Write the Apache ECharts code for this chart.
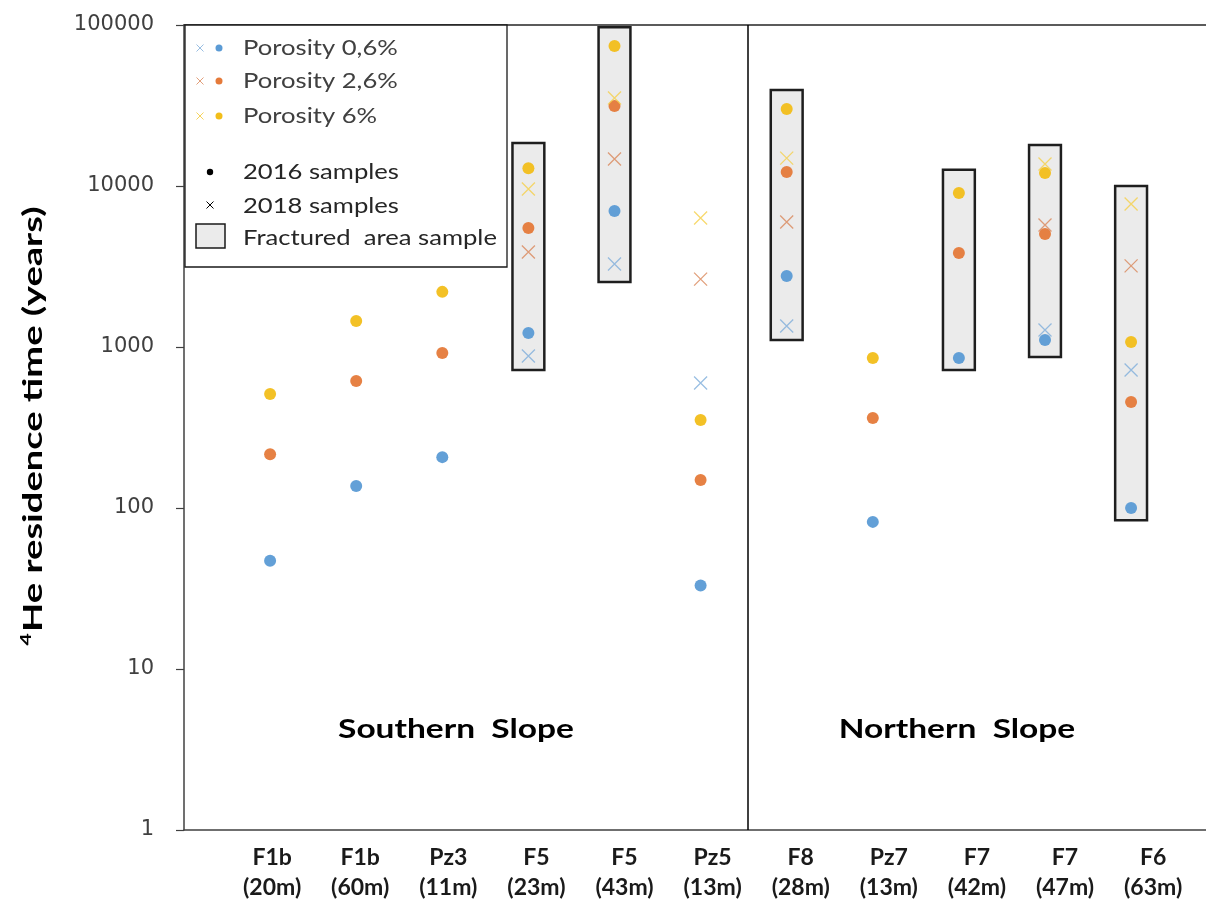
<!DOCTYPE html>
<html><head><meta charset="utf-8">
<script src="https://cdn.jsdelivr.net/npm/echarts@6/dist/echarts.min.js"></script>
<style>html,body{margin:0;padding:0;background:#fff}#c{width:1206px;height:904px}</style>
</head><body><div id="c"></div>
<script>
// ---- data ----
const sites  = ['F1b','F1b','Pz3','F5','F5','Pz5','F8','Pz7','F7','F7','F6'];
const depths = ['(20m)','(60m)','(11m)','(23m)','(43m)','(13m)','(28m)','(13m)','(42m)','(47m)','(63m)'];
const yTicks = [1,10,100,1000,10000,100000];
// 2016 samples (dots)
const p06_2016 = [47, 137, 207, 1220, 7000, 33, 2760, 82, 855, 1105, 100];
const p26_2016 = [216, 615, 918, 5480, 31400, 149, 12200, 362, 3840, 5030, 455];
const p6_2016  = [510, 1450, 2200, 12900, 74000, 352, 30100, 855, 9050, 12050, 1075];
// 2018 samples (crosses)
const p06_2018 = [null, null, null, 880, 3280, 598, 1350, null, null, 1275, 720];
const p26_2018 = [null, null, null, 3890, 14700, 2640, 5970, null, null, 5730, 3190];
const p6_2018  = [null, null, null, 9580, 35200, 6330, 14900, null, null, 13700, 7730];
// fractured area boxes: category index (1-based), low, high
const boxIdx  = [4, 5, 7, 9, 10, 11];
const boxLow  = [720, 2535, 1105, 720, 867, 84];
const boxHigh = [18500, 97000, 39500, 12600, 18000, 10000];
const dividerX = 6.55;

const C_BLUE = '#5B9BD5', C_ORANGE = '#E57A3A', C_YELLOW = '#F2BE1A';
const X_BLUE = '#7FAEDB', X_ORANGE = '#D9875A', X_YELLOW = '#F5CF4A';
const CROSS = 'path://M0,0L10,10M10,0L0,10';

function pts(arr){ return arr.map((v,i)=> v==null ? null : [i+1, v]).filter(d=>d); }

const chart = echarts.init(document.getElementById('c'), null, {renderer:'canvas'});

function dotSeries(arr, color){
  return {type:'scatter', xAxisIndex:0, data: pts(arr), symbol:'circle', symbolSize:12,
    itemStyle:{color: color, opacity: 0.95}, z:4, silent:true};
}
function crossSeries(arr, color){
  return {type:'scatter', xAxisIndex:0, data: pts(arr), symbol: CROSS, symbolSize:13,
    itemStyle:{color:'none', borderColor: color, borderWidth:1.3, opacity:0.8}, z:5, silent:true};
}
function legendCross(cx, cy, color, op){
  const h = 3.5;
  return [
    {type:'line', shape:{x1:cx-h,y1:cy-h,x2:cx+h,y2:cy+h}, style:{stroke:color, lineWidth:1, opacity:op}},
    {type:'line', shape:{x1:cx-h,y1:cy+h,x2:cx+h,y2:cy-h}, style:{stroke:color, lineWidth:1, opacity:op}}
  ];
}
function legendText(txt, y, color){
  return {type:'text', x:243, y:y, scaleX:1.22, style:{text:txt, font:'21px Lato', fill:color, verticalAlign:'middle'}};
}

const boxData = boxIdx.map((x,i)=>[x, boxLow[i], boxHigh[i]]);

const legendChildren = [
  {type:'rect', shape:{x:185,y:25,width:322,height:242}, style:{fill:'#fff', stroke:'#1a1a1a', lineWidth:1.3}},
  ...legendCross(200, 48, X_BLUE, 0.8),
  {type:'circle', shape:{cx:219, cy:48, r:3.5}, style:{fill:C_BLUE}},
  legendText('Porosity 0,6%', 48, '#404040'),
  ...legendCross(200, 81, X_ORANGE, 0.8),
  {type:'circle', shape:{cx:219, cy:81, r:3.5}, style:{fill:C_ORANGE}},
  legendText('Porosity 2,6%', 81, '#404040'),
  ...legendCross(200, 116, X_YELLOW, 0.9),
  {type:'circle', shape:{cx:219, cy:116, r:3.5}, style:{fill:C_YELLOW}},
  legendText('Porosity 6%', 116, '#404040'),
  {type:'circle', shape:{cx:210, cy:172, r:3.2}, style:{fill:'#000'}},
  legendText('2016 samples', 172, '#262626'),
  ...legendCross(210, 205, '#000', 1),
  legendText('2018 samples', 206, '#262626'),
  {type:'rect', shape:{x:196, y:224, width:29, height:24}, style:{fill:'#EBEBEB', stroke:'#1a1a1a', lineWidth:1.5}},
  legendText('Fractured  area sample', 238, '#262626')
].map(e => Object.assign({z:20}, e));

const option = {
  backgroundColor:'#fff',
  animation:false,
  grid:{left:184, right:0, top:25, bottom:74, containLabel:false},
  xAxis:[
    {type:'value', min:0, max:11.87, position:'bottom', axisLine:{show:true, lineStyle:{color:'#404040', width:1.5}},
     axisTick:{show:false}, axisLabel:{show:false}, splitLine:{show:false}},
    {type:'value', min:0, max:11.6, interval:1, position:'bottom', axisLine:{show:false}, axisTick:{show:false},
     splitLine:{show:false},
     axisLabel:{show:true, margin:13, showMinLabel:false, showMaxLabel:false,
       formatter:function(v){ const i=Math.round(v); if(Math.abs(v-i)>1e-6||i<1||i>sites.length) return ''; return '{a|'+sites[i-1]+'}\n{a|'+depths[i-1]+'}'; },
       rich:{a:{fontFamily:'Lato', fontWeight:'bold', fontSize:23, color:'#1a1a1a', lineHeight:30}}}},
    {type:'value', min:0, max:11.87, position:'top', axisLine:{show:true, lineStyle:{color:'#262626', width:1.5}},
     axisTick:{show:false}, axisLabel:{show:false}, splitLine:{show:false}}
  ],
  yAxis:{type:'log', logBase:10, min:1, max:100000,
    axisLine:{show:true, lineStyle:{color:'#404040', width:1.5}},
    axisTick:{show:true, length:8, inside:false, lineStyle:{color:'#404040', width:1.2}},
    axisLabel:{fontFamily:'DejaVu Sans', fontSize:21, color:'#404040', margin:30,
      formatter:function(v){ return yTicks.indexOf(Math.round(v))>=0 ? String(Math.round(v)) : ''; }},
    splitLine:{show:false}
  },
  series:[
    {type:'custom', xAxisIndex:0, data: boxData, z:2, silent:true,
     renderItem:function(params, api){
       const x = api.value(0);
       const top = api.coord([x, api.value(2)]);
       const bot = api.coord([x, api.value(1)]);
       const w = api.size([1,0])[0]*0.37;
       return {type:'rect', shape:{x: top[0]-w/2, y: top[1], width:w, height: bot[1]-top[1]},
         style:{fill:'#EBEBEB', stroke:'#1e1e1e', lineWidth:2.5}};
     },
     markLine:{silent:true, symbol:'none', label:{show:false},
       lineStyle:{color:'#000', width:1.5, type:'solid'},
       data:[[{coord:[dividerX, 100000]},{coord:[dividerX, 1]}]]}
    },
    dotSeries(p06_2016, C_BLUE),
    dotSeries(p26_2016, C_ORANGE),
    dotSeries(p6_2016, C_YELLOW),
    crossSeries(p06_2018, X_BLUE),
    crossSeries(p26_2018, X_ORANGE),
    crossSeries(p6_2018, X_YELLOW)
  ],
  graphic:[
    {type:'text', x:33, y:426, rotation:Math.PI/2, scaleX:1.41,
     style:{text:'{s|4}{m|He residence time (years)}', align:'center', verticalAlign:'middle',
       rich:{
         s:{font:'bold 15px Lato', fill:'#000', verticalAlign:'top', padding:[0,1,13,0]},
         m:{font:'bold 27px Lato', fill:'#000'}}}},
    {type:'text', x:456, y:729, scaleX:1.24, style:{text:'Southern  Slope', font:'bold 27px Lato', fill:'#000', align:'center', verticalAlign:'middle'}},
    {type:'text', x:957, y:729, scaleX:1.24, style:{text:'Northern  Slope', font:'bold 27px Lato', fill:'#000', align:'center', verticalAlign:'middle'}},
    ...legendChildren
  ]
};
chart.setOption(option);
</script></body></html>
